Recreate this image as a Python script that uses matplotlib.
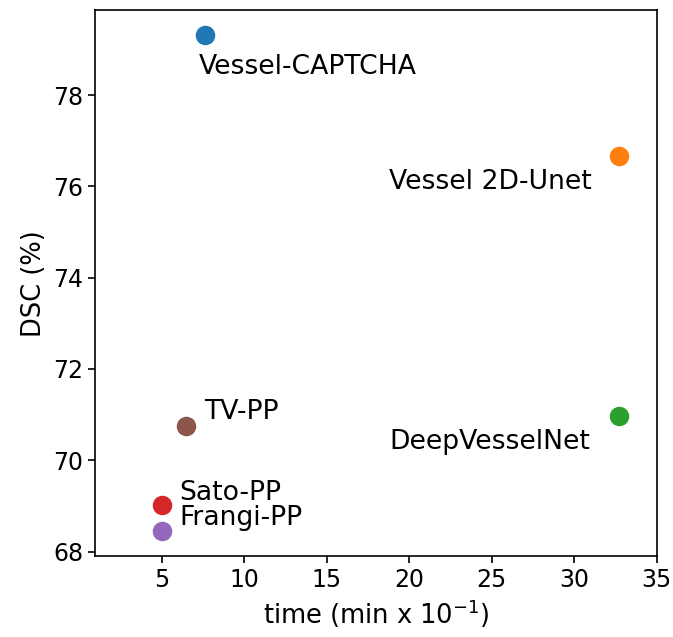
import numpy as np
import matplotlib
matplotlib.use('Agg')
import matplotlib.pyplot as plt

# methods and their results
methods = ['Vessel-CAPTCHA', 'Vessel 2D-Unet', 'DeepVesselNet', 'TV-PP', 'Sato-PP', 'Frangi-PP']
time_min = [7.6, 32.7, 32.7, 6.5, 5.0, 5.0]      # min x 10^-1
dsc = [79.32, 76.66, 70.96, 70.75, 69.02, 68.44]  # %
colors = ['#1f77b4', '#ff7f0e', '#2ca02c', '#8c564b', '#d62728', '#9467bd']
# label offsets in pixels from each point
offsets = [(-6, -39), (-230, -33), (-230, -33), (18, 7), (18, 5), (18, 6)]

fig = plt.figure(figsize=(6.73, 6.37), dpi=100)
ax = fig.add_axes([0.141, 0.127, 0.835, 0.857])

for m, x, y, c, off in zip(methods, time_min, dsc, colors, offsets):
    ax.scatter(x, y, s=170, color=c, zorder=3)
    ax.annotate(m, (x, y), xytext=off, textcoords='offset pixels',
                fontsize=19.2, ha='left', va='baseline')

ax.set_xlim(0.95, 35)
ax.set_ylim(67.9, 79.86)
ax.set_xticks([5, 10, 15, 20, 25, 30, 35])
ax.set_yticks([68, 70, 72, 74, 76, 78])
ax.tick_params(labelsize=17, length=5, width=1.2)
for s in ax.spines.values():
    s.set_linewidth(1.2)
ax.set_xlabel('time (min x $10^{-1}$)', fontsize=18.5)
ax.set_ylabel('DSC (%)', fontsize=18.5)

plt.savefig('out.png', dpi=100)
